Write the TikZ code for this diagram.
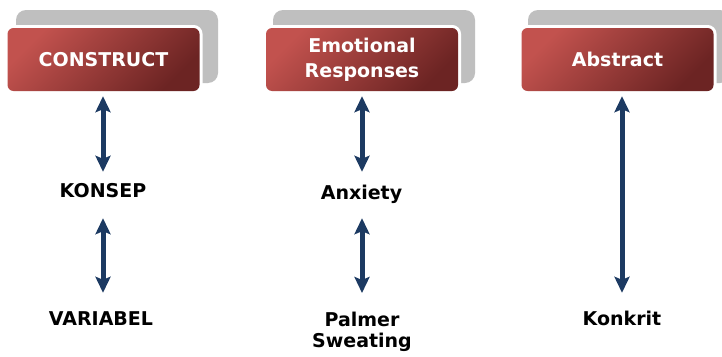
\documentclass[tikz,border=0pt]{standalone}
\usepackage{fontspec}
\setmainfont{DejaVu Sans}
\usetikzlibrary{arrows.meta}
\definecolor{redL}{RGB}{194,82,78}
\definecolor{redD}{RGB}{108,36,35}
\definecolor{grayB}{RGB}{191,191,191}
\definecolor{navy}{RGB}{28,58,98}
\tikzset{
  backbox/.style={fill=grayB, rounded corners=10pt, minimum width=202pt, minimum height=73pt, inner sep=0pt},
  headbox/.style={preaction={draw=white, line width=6pt}, top color=redL, bottom color=redD, shading angle=45,
    rounded corners=6pt, minimum width=192pt, minimum height=63pt, inner sep=0pt,
    text=white, align=center, font=\fontsize{19}{25}\selectfont\bfseries},
  lbl/.style={inner sep=0pt, text height=14pt, text depth=4pt, anchor=base, align=center,
    font=\fontsize{19}{21}\selectfont\bfseries},
  dblarrow/.style={draw=navy, line width=5pt,
    {Stealth[width=15pt,length=16pt,inset=3pt]}-{Stealth[width=15pt,length=16pt,inset=3pt]}}
}
\begin{document}
\begin{tikzpicture}[x=1pt,y=1pt]
\useasboundingbox (0,0) rectangle (722,-356);
\clip (0,0) rectangle (722,-356);
\fill[white] (0,0) rectangle (722,-356);
% back boxes
\node[backbox] (g1) at (117,-46.5) {};
\node[backbox] (g2) at (374,-46.5) {};
\node[backbox] (g3) at (629,-46.5) {};
% head boxes
\node[headbox] (b1) at (103.5,-59.5) {\raisebox{-1.5pt}{CONSTRUCT}};
\node[headbox] (b2) at (362,-59.5) {\raisebox{-2.5pt}{\begin{tabular}{@{}c@{}}Emotional\\Responses\end{tabular}}};
\node[headbox] (b3) at (617.5,-59.5) {\raisebox{-1.5pt}{Abstract}};
% labels
\node[lbl] (konsep) at (103,-197.5) {KONSEP};
\node[lbl] (variabel) at (101,-325) {VARIABEL};
\node[lbl] (anxiety) at (361.5,-199) {Anxiety};
\node[inner sep=0pt, anchor=north, align=center, font=\fontsize{19}{21}\selectfont\bfseries] (palmer) at (362,-311.6) {Palmer\\Sweating};
\node[lbl] (konkrit) at (622,-325) {Konkrit};
% arrows
\draw[dblarrow, shorten <=5pt, shorten >=11.5pt] (b1.south -| konsep.north) -- (konsep.north);
\draw[dblarrow, shorten <=16.5pt, shorten >=18pt] (konsep.south) -- (konsep.south |- variabel.north);
\draw[dblarrow, shorten <=5pt, shorten >=13pt] (b2.south) -- (b2.south |- anxiety.north);
\draw[dblarrow, shorten <=15pt, shorten >=18.6pt] (b2.south |- anxiety.south) -- (b2.south |- palmer.north);
\draw[dblarrow, shorten <=5pt, shorten >=18pt] (b3.south -| konkrit.north) -- (konkrit.north);
\end{tikzpicture}
\end{document}
